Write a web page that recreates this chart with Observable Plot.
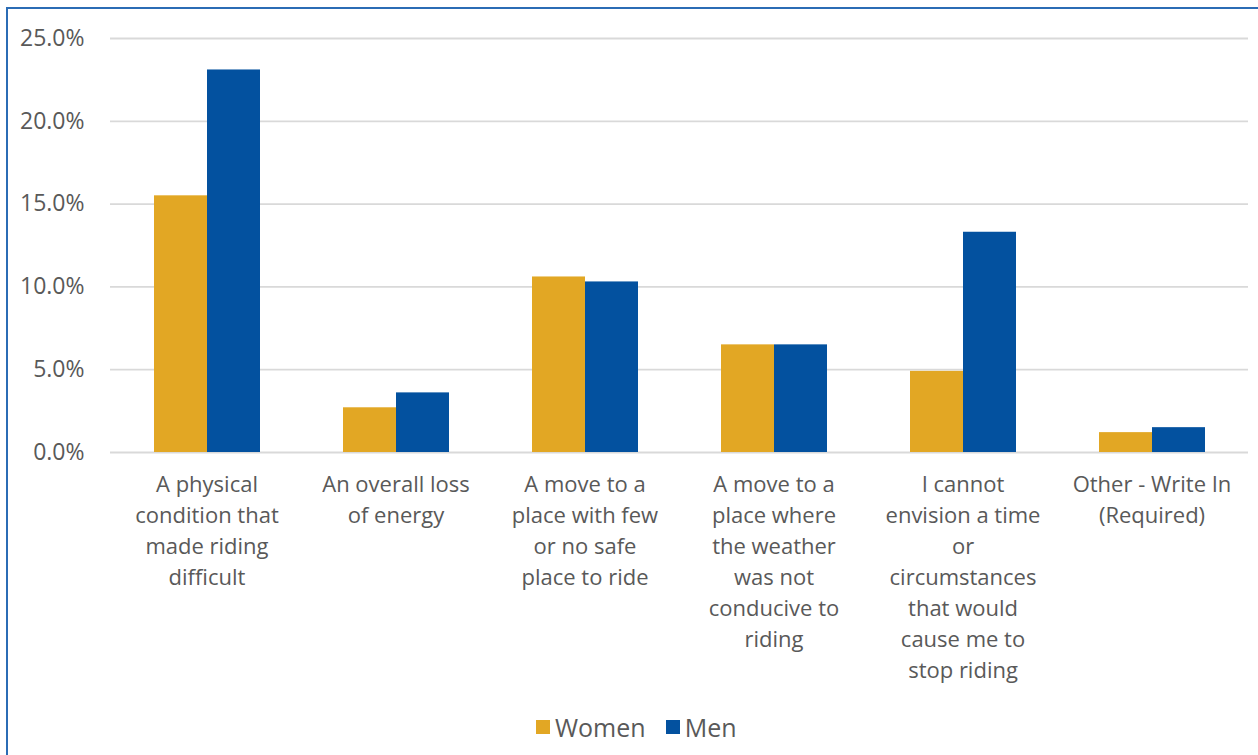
<!DOCTYPE html>
<html>
<head>
<meta charset="utf-8">
<script src="https://cdn.jsdelivr.net/npm/d3@7"></script>
<script src="https://cdn.jsdelivr.net/npm/@observablehq/plot@0.6"></script>
<style>
  html, body { margin: 0; padding: 0; background: #fff; overflow: hidden; }
  body { width: 1258px; height: 755px; position: relative; font-family: "Open Sans", "Liberation Sans", sans-serif; }
  #frame { position: absolute; left: 6px; top: 7px; width: 1300px; height: 800px; border: 2px solid #2b6cb5; box-sizing: border-box; }
  #grid, #chart { position: absolute; left: 0; top: 0; }
  #legend { position: absolute; left: 536px; top: 710px; }
  .lg-swatches { font-family: "Open Sans", "Liberation Sans", sans-serif !important; font-size: 25px !important; color: #595959 !important; margin: 0 !important; min-height: 0 !important; }
  .lg-swatch { margin-right: 20px !important; }
  .lg-swatch > svg { margin-right: 5px !important; }
</style>
</head>
<body>
<div id="frame"></div>
<div id="grid"></div>
<div id="chart"></div>
<div id="legend"></div>
<script>
const categories = [
  "A physical condition that made riding difficult",
  "An overall loss of energy",
  "A move to a place with few or no safe place to ride",
  "A move to a place where the weather was not conducive to riding",
  "I cannot envision a time or circumstances that would cause me to stop riding",
  "Other - Write In (Required)"
];
const categoryLabels = [
  "A physical\ncondition that\nmade riding\ndifficult",
  "An overall loss\nof energy",
  "A move to a\nplace with few\nor no safe\nplace to ride",
  "A move to a\nplace where\nthe weather\nwas not\nconducive to\nriding",
  "I cannot\nenvision a time\nor\ncircumstances\nthat would\ncause me to\nstop riding",
  "Other - Write In\n(Required)"
];
const series = ["Women", "Men"];
const women = [15.5, 2.7, 10.6, 6.5, 4.9, 1.2];
const men = [23.1, 3.6, 10.3, 6.5, 13.3, 1.5];
const yTicks = [0, 5, 10, 15, 20, 25];
const colors = ["#E2A724", "#03519F"];

const data = categories.flatMap((c, i) => [
  {category: c, series: "Women", value: women[i]},
  {category: c, series: "Men", value: men[i]}
]);
const labelOf = new Map(categories.map((c, i) => [c, categoryLabels[i]]));
const fmt = d => d.toFixed(1) + "%";

const common = {
  width: 1258,
  height: 700,
  marginLeft: 110,
  marginRight: 10,
  marginTop: 38,
  marginBottom: 248,
  style: {fontFamily: "'Open Sans', 'Liberation Sans', sans-serif", fontSize: "22px", color: "#595959", background: "transparent"}
};

// Background layer: continuous gridlines and y tick labels
const grid = Plot.plot({
  ...common,
  y: {domain: [0, 25], axis: null},
  marks: [
    Plot.ruleY(yTicks, {y: d => d, stroke: "#d9d9d9", strokeWidth: 1.8}),
    Plot.text(yTicks, {y: d => d, text: fmt, frameAnchor: "left", dx: -26, textAnchor: "end", fontSize: 23, fill: "#595959"})
  ]
});
document.getElementById("grid").appendChild(grid);

// Foreground layer: grouped bars and category labels
const chart = Plot.plot({
  ...common,
  marginLeft: 109,
  marginRight: 10,
  fx: {domain: categories, paddingInner: 0.434, paddingOuter: 0.217, label: null},
  x: {domain: series, padding: 0, axis: null},
  y: {domain: [0, 25], axis: null},
  color: {domain: series, range: colors},
  marks: [
    Plot.barY(data, {fx: "category", x: "series", y: "value", fill: "series"}),
    Plot.axisFx({anchor: "bottom", tickSize: 0, tickPadding: 17, label: null, tickFormat: c => labelOf.get(c), lineHeight: 1.41, fontSize: 22, fill: "#595959", lineWidth: Infinity})
  ]
});
document.getElementById("chart").appendChild(chart);

const legend = Plot.legend({
  color: {domain: series, range: colors},
  swatchSize: 14,
  className: "lg"
});
document.getElementById("legend").appendChild(legend);
</script>
</body>
</html>
